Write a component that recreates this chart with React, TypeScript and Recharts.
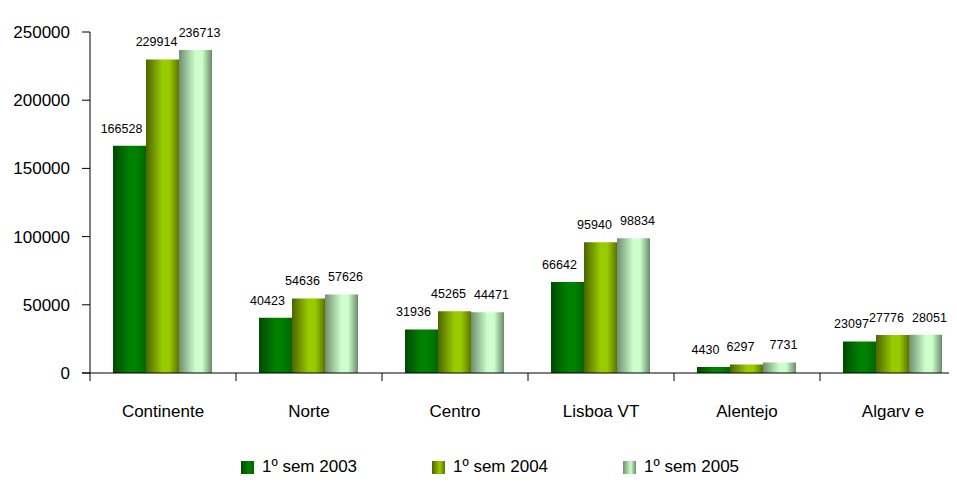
import { BarChart, Bar, XAxis, YAxis, LabelList } from 'recharts';

// regiões e valores por semestre
const regions = ['Continente', 'Norte', 'Centro', 'Lisboa VT', 'Alentejo', 'Algarv e'];
const sem2003 = [166528, 40423, 31936, 66642, 4430, 23097];
const sem2004 = [229914, 54636, 45265, 95940, 6297, 27776];
const sem2005 = [236713, 57626, 44471, 98834, 7731, 28051];
const yTicks = [0, 50000, 100000, 150000, 200000, 250000];

const series = [
  { key: 's2003', name: '1º sem 2003', grad: 'g2003', stops: ['#004a00', '#008000', '#006600'], dx: -8 },
  { key: 's2004', name: '1º sem 2004', grad: 'g2004', stops: ['#4d6400', '#99cc00', '#5c7300'], dx: -6 },
  { key: 's2005', name: '1º sem 2005', grad: 'g2005', stops: ['#6f8f6f', '#ccffcc', '#6a8a6a'], dx: 4 },
];

const data = regions.map((name, i) => ({
  name,
  s2003: sem2003[i],
  s2004: sem2004[i],
  s2005: sem2005[i],
}));

const font = '"Liberation Sans", Arial, sans-serif';

export default function App() {
  return (
    <div style={{ position: 'relative', width: 949, height: 480, overflow: 'hidden', fontFamily: font }}>
      <BarChart
        width={958}
        height={480}
        data={data}
        margin={{ top: 24, right: 0, bottom: 55, left: 0 }}
        barCategoryGap={23}
        barGap={0}
      >
        <defs>
          {series.map((s) => (
            <linearGradient key={s.grad} id={s.grad} x1="0" y1="0" x2="1" y2="0">
              <stop offset="0%" stopColor={s.stops[0]} />
              <stop offset="50%" stopColor={s.stops[1]} />
              <stop offset="70%" stopColor={s.stops[1]} />
              <stop offset="100%" stopColor={s.stops[2]} />
            </linearGradient>
          ))}
        </defs>
        <XAxis
          dataKey="name"
          height={60}
          stroke="#000"
          tickLine={false}
          tick={{ fill: '#000', fontSize: 17, fontFamily: font }}
          tickMargin={26}
        />
        <YAxis
          width={82}
          domain={[0, 250000]}
          ticks={yTicks}
          stroke="#000"
          tickSize={8}
          tickMargin={12}
          tick={{ fill: '#000', fontSize: 17, fontFamily: font }}
        />
        {series.map((s) => (
          <Bar key={s.key} dataKey={s.key} name={s.name} fill={`url(#${s.grad})`} isAnimationActive={false}>
            <LabelList
              dataKey={s.key}
              position="top"
              offset={13}
              dx={s.dx}
              fill="#000"
              fontSize={12.5}
              fontFamily={font}
            />
          </Bar>
        ))}
      </BarChart>
      {/* divisórias do eixo x */}
      <svg style={{ position: 'absolute', left: 0, top: 0, pointerEvents: 'none' }} width={949} height={480}>
        {regions.map((r, i) => (
          <line key={r} x1={82 + i * 146} x2={82 + i * 146} y1={365} y2={373} stroke="#000" />
        ))}
        <line x1={74} x2={82} y1={365} y2={365} stroke="#000" />
      </svg>
      {/* legenda */}
      {series.map((s, i) => (
        <div
          key={s.key}
          style={{
            position: 'absolute',
            top: 449,
            left: 233 + i * 191,
            display: 'flex',
            alignItems: 'center',
            gap: 8,
            fontSize: 17,
            color: '#000',
          }}
        >
          <div style={{ width: 13, height: 13, background: `linear-gradient(to right, ${s.stops[0]}, ${s.stops[1]} 60%, ${s.stops[2]})` }} />
          <span>{s.name}</span>
        </div>
      ))}
    </div>
  );
}
